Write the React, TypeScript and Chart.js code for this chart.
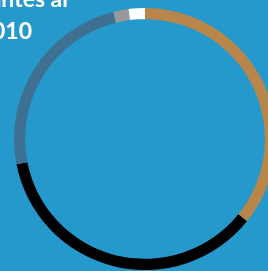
import React, { useEffect, useRef } from "react";
import { Chart, registerables } from "chart.js";

Chart.register(...registerables);

const categories = ["Grupo A", "Grupo B", "Grupo C", "Grupo D", "Grupo E"];
const values = [35.8, 36.1, 24.2, 1.9, 2.0];
const colors = ["#b8864a", "#000000", "#3e7092", "#98989c", "#ffffff"];
const titleLines = ["Habitantes al", "2010"];

const BG = "#2598cc";

export default function App() {
  const ref = useRef<HTMLCanvasElement | null>(null);

  useEffect(() => {
    document.body.style.margin = "0";
    const chart = new Chart(ref.current as HTMLCanvasElement, {
      type: "doughnut",
      data: {
        labels: categories,
        datasets: [
          {
            data: values,
            backgroundColor: colors,
            borderWidth: 0,
          },
        ],
      },
      options: {
        animation: false,
        responsive: false,
        cutout: "91.5%",
        rotation: 0,
        plugins: {
          legend: { display: false },
          tooltip: { enabled: false },
        },
        layout: { padding: 0 },
      },
    });
    return () => chart.destroy();
  }, []);

  const textStyle: React.CSSProperties = {
    position: "absolute",
    color: "#ffffff",
    fontFamily: "Lato, sans-serif",
    fontWeight: 700,
    fontSize: 23,
    lineHeight: "31px",
    whiteSpace: "nowrap",
    textAlign: "right",
  };

  return (
    <div
      style={{
        position: "fixed",
        left: 0,
        top: 0,
        width: 268,
        height: 271,
        background: BG,
        overflow: "hidden",
      }}
    >
      <canvas
        ref={ref}
        width={262}
        height={262}
        style={{ position: "absolute", left: 14, top: 8, width: 262, height: 262 }}
      />
      <div style={{ ...textStyle, right: 268 - 68, top: -17 }}>{titleLines[0]}</div>
      <div style={{ ...textStyle, right: 268 - 32, top: 15 }}>{titleLines[1]}</div>
    </div>
  );
}
